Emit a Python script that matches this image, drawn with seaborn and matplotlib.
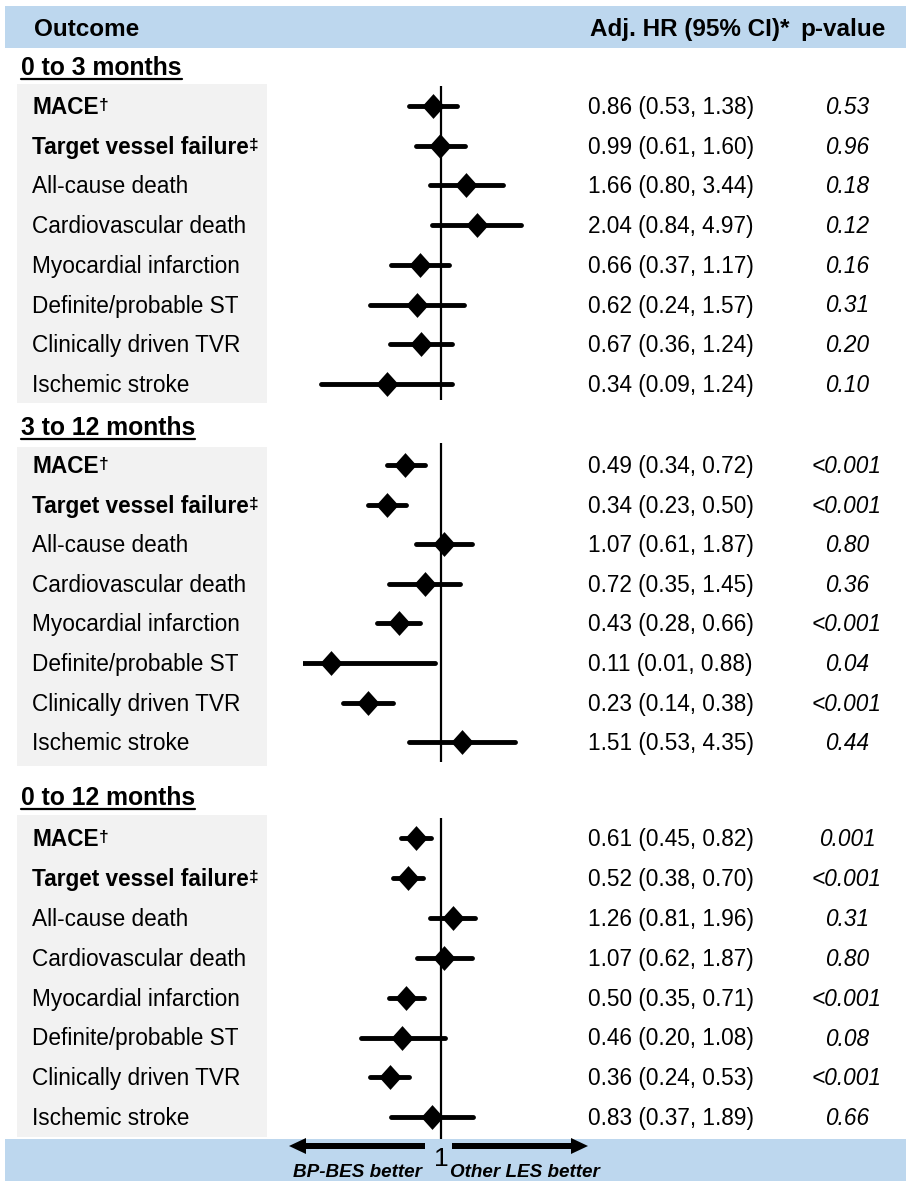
import matplotlib
matplotlib.use("Agg")
import matplotlib.pyplot as plt
from matplotlib.markers import MarkerStyle
from matplotlib.patches import Rectangle
import numpy as np
import pandas as pd
import seaborn as sns

# data
periods = ["0 to 3 months", "3 to 12 months", "0 to 12 months"]
outcomes = ["MACE", "Target vessel failure", "All-cause death", "Cardiovascular death",
            "Myocardial infarction", "Definite/probable ST", "Clinically driven TVR",
            "Ischemic stroke"]
marks = ["\u2020", "\u2021", "", "", "", "", "", ""]

hr_0_3 = [0.86, 0.99, 1.66, 2.04, 0.66, 0.62, 0.67, 0.34]
lo_0_3 = [0.53, 0.61, 0.80, 0.84, 0.37, 0.24, 0.36, 0.09]
hi_0_3 = [1.38, 1.60, 3.44, 4.97, 1.17, 1.57, 1.24, 1.24]
p_0_3 = ["0.53", "0.96", "0.18", "0.12", "0.16", "0.31", "0.20", "0.10"]

hr_3_12 = [0.49, 0.34, 1.07, 0.72, 0.43, 0.11, 0.23, 1.51]
lo_3_12 = [0.34, 0.23, 0.61, 0.35, 0.28, 0.01, 0.14, 0.53]
hi_3_12 = [0.72, 0.50, 1.87, 1.45, 0.66, 0.88, 0.38, 4.35]
p_3_12 = ["<0.001", "<0.001", "0.80", "0.36", "<0.001", "0.04", "<0.001", "0.44"]

hr_0_12 = [0.61, 0.52, 1.26, 1.07, 0.50, 0.46, 0.36, 0.83]
lo_0_12 = [0.45, 0.38, 0.81, 0.62, 0.35, 0.20, 0.24, 0.37]
hi_0_12 = [0.82, 0.70, 1.96, 1.87, 0.71, 1.08, 0.53, 1.89]
p_0_12 = ["0.001", "<0.001", "0.31", "0.80", "<0.001", "0.08", "<0.001", "0.66"]

# layout (pixels)
W, H = 911, 1181
first_row = [106, 465, 838]
row_step = [39.7, 39.6, 39.9]
head_base = [75, 435, 805]
box_span = [(84, 403), (447, 766), (815, 1137)]
ref_span = [(86, 400), (443, 762), (818, 1139)]
BLUE = "#bdd7ee"
GREY = "#f2f2f2"

rows = []
for k, (hr, lo, hi, p) in enumerate([(hr_0_3, lo_0_3, hi_0_3, p_0_3),
                                     (hr_3_12, lo_3_12, hi_3_12, p_3_12),
                                     (hr_0_12, lo_0_12, hi_0_12, p_0_12)]):
    for i in range(len(outcomes)):
        rows.append({"period": periods[k], "outcome": outcomes[i], "mark": marks[i],
                     "hr": hr[i], "lo": lo[i], "hi": hi[i], "p": p[i],
                     "y": first_row[k] + i * row_step[k]})
df = pd.DataFrame(rows)

sns.set_theme(style="white")
plt.rcParams["font.family"] = ["Liberation Sans", "DejaVu Sans"]
plt.rcParams["text.color"] = "black"

fig = plt.figure(figsize=(W / 100, H / 100), dpi=100)
cax = fig.add_axes([0, 0, 1, 1])
cax.set_xlim(0, W)
cax.set_ylim(H, 0)
cax.axis("off")

# forest panel: log scale, ~50 px per ln unit, HR=1 at x=441
fax = fig.add_axes([303 / W, 0, 257 / W, 1])
fax.set_xscale("log")
fax.patch.set_visible(False)

# bands and grey boxes
cax.add_patch(Rectangle((5, 6), W - 10, 42, color=BLUE, lw=0))
cax.add_patch(Rectangle((5, 1139), W - 10, 42, color=BLUE, lw=0))
for top, bot in box_span:
    cax.add_patch(Rectangle((17, top), 250, bot - top, color=GREY, lw=0))

# header
hsize = 17.5
cax.text(34, 36, "Outcome", fontsize=hsize, fontweight="bold", va="baseline")
cax.text(590, 36, "Adj. HR (95% CI)*", fontsize=hsize, fontweight="bold", va="baseline")
cax.text(800, 36, "p-value", fontsize=hsize, fontweight="bold", va="baseline")

# section titles
titles = []
for k, name in enumerate(periods):
    titles.append(cax.text(21, head_base[k], name, fontsize=17.8, fontweight="bold",
                           va="baseline"))

# rows
fs = 16.3
for _, r in df.iterrows():
    base = r["y"] + 8
    bold = r["mark"] != ""
    t = cax.text(32, base, r["outcome"], fontsize=fs,
                 fontweight="bold" if bold else "normal", va="baseline")
    if bold:
        cax.annotate(r["mark"], xy=(1, 1), xycoords=t, xytext=(0.3, -1.5),
                     textcoords="offset points", fontsize=12.5, fontweight="bold",
                     ha="left", va="top")
    cax.text(588, base, f"{r['hr']:.2f} ({r['lo']:.2f}, {r['hi']:.2f})",
             fontsize=fs, va="baseline")
    cax.text(847, base, r["p"], fontsize=fs, style="italic", ha="center", va="baseline")

# reference lines at HR = 1
for top, bot in ref_span:
    fax.vlines(1, top, bot, color="black", lw=1.6, zorder=2)

# confidence intervals and point estimates
ci = fax.hlines(df["y"], df["lo"], df["hi"], color="black", lw=3.5, zorder=3)
ci.set_capstyle("round")
diamond = MarkerStyle([(-0.9, 0), (0, 1), (0.9, 0), (0, -1), (-0.9, 0)])
sns.scatterplot(data=df, x="hr", y="y", ax=fax, marker=diamond, s=320,
                color="black", edgecolor="black", linewidth=0, zorder=4, legend=False)
fax.set_xlim(np.exp(-138 / 50), np.exp(119 / 50))
fax.set_ylim(H, 0)
fax.axis("off")

# bottom band
fax.text(1, 1166, "1", fontsize=19, ha="center", va="baseline", zorder=5)
cax.arrow(425, 1146, -136, 0, width=6, head_width=16, head_length=17,
          length_includes_head=True, color="black", lw=0)
cax.arrow(452, 1146, 136, 0, width=6, head_width=16, head_length=17,
          length_includes_head=True, color="black", lw=0)
cax.text(422, 1177, "BP-BES better", fontsize=13.6, fontweight="bold", style="italic",
         ha="right", va="baseline")
cax.text(450, 1177, "Other LES better", fontsize=13.6, fontweight="bold", style="italic",
         ha="left", va="baseline")

# underline the section titles
fig.canvas.draw()
inv = cax.transData.inverted()
for k, t in enumerate(titles):
    bb = t.get_window_extent()
    x0 = inv.transform((bb.x0, 0))[0]
    x1 = inv.transform((bb.x1, 0))[0]
    cax.plot([x0, x1], [head_base[k] + 4, head_base[k] + 4], color="black", lw=1.6)

fig.savefig("out.png", dpi=100)
